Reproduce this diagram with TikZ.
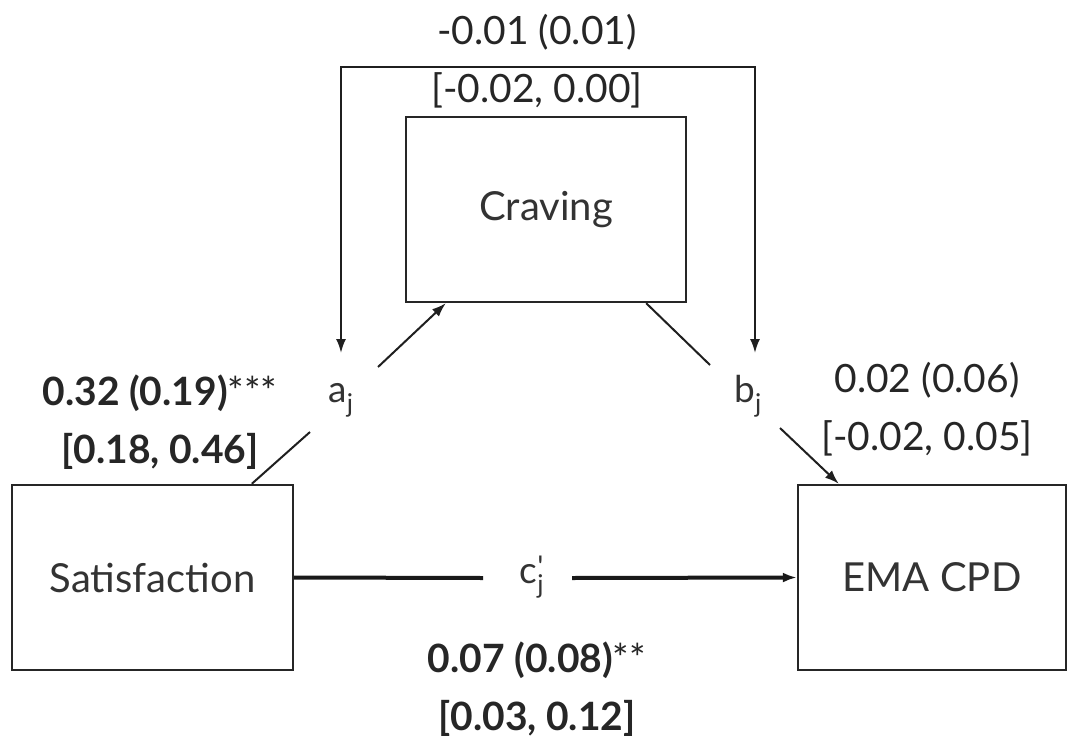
\documentclass[tikz,border=0pt]{standalone}
\usepackage{fontspec}
\setmainfont{Lato}
\usetikzlibrary{arrows.meta,calc}
\begin{document}
\begin{tikzpicture}[x=1pt,y=-1pt,
  box/.style={draw=black!85,line width=2.4pt,minimum width=#1,minimum height=185pt,inner sep=0pt,font=\fontsize{40}{48}\selectfont,text=black!80},
  lbl/.style={font=\fontsize{39}{58}\selectfont,text=black!85,align=center,inner sep=0pt},
  sym/.style={font=\fontsize{37}{44}\selectfont,text=black!80,inner sep=0pt,anchor=base},
  conn/.style={draw=black!88,line width=2pt},
  thick conn/.style={draw=black!90,line width=4pt},
  tip/.style={-{Latex[length=14pt,width=10pt]}}]
\useasboundingbox (0,0) rectangle (1076,744);
% boxes
\node[box=280pt] (crav) at (546,209.5) {Craving};
\node[box=281pt] (sat) at (152.5,577.5) {Satisfaction};
\node[box=268pt] (ema) at (932,577.5) {EMA CPD};
% path symbols
\node[sym] (aj) at (341,402) {a\textsubscript{j}};
\node[sym] (bj) at (748,402) {b\textsubscript{j}};
\node[sym] (cj) at (532,583) {c\rlap{\raisebox{0.16em}{\fontsize{30}{30}\selectfont\textquotesingle}}\textsubscript{j}};
% labels
\node[lbl] (topl) at (537,61) {-0.01 (0.01)\\{[}-0.02, 0.00]};
\node[lbl,font=\fontsize{39}{58}\selectfont\bfseries] (al) at (160,422) {0.32 (0.19)\textmd{***}\\{[}0.18, 0.46]};
\node[lbl] (bl) at (927,409) {0.02 (0.06)\\{[}-0.02, 0.05]};
\node[lbl,font=\fontsize{39}{58}\selectfont\bfseries] (cl) at (537,689) {0.07 (0.08)\textmd{**}\\{[}0.03, 0.12]};
% connectors
\draw[conn,tip] ($(crav.north)+(0,-49)$) -| ($(aj.base)+(0,-49)$);
\draw[conn,tip] ($(crav.north)+(0,-49)$) -| ($(bj.base)+(7,-49)$);
\draw[conn] ($(sat.north west)+(241,0)$) -- ($(aj.base)+(-31,30)$);
\draw[conn,tip] ($(aj.base)+(37,-35)$) -- ($(crav.south west)+(41,0)$);
\draw[conn] ($(crav.south east)+(-41,0)$) -- ($(bj.base)+(-38,-37)$);
\draw[conn,tip] ($(bj.base)+(32,26)$) -- ($(ema.north west)+(42,0)$);
\draw[thick conn] (sat.east) -- ($(cj.base)+(-49,-5)$);
\draw[thick conn,tip] ($(cj.base)+(40,-5)$) -- (ema.west);
\end{tikzpicture}
\end{document}
